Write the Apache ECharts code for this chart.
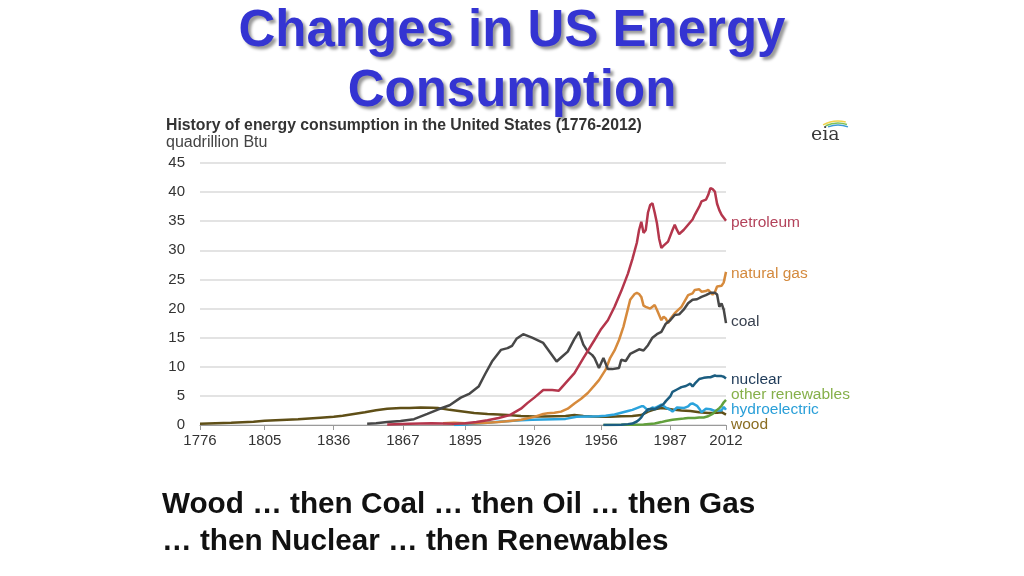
<!DOCTYPE html>
<html>
<head>
<meta charset="utf-8">
<script src="https://cdn.jsdelivr.net/npm/echarts@6/dist/echarts.min.js"></script>
<style>
html,body{margin:0;padding:0;background:#fff;}
#chart{width:1024px;height:576px;}
</style>
</head>
<body>
<div id="chart"></div>
<script>
// ---- data (quadrillion Btu), [year, value] ----
const xTickYears = [1776, 1805, 1836, 1867, 1895, 1926, 1956, 1987, 2012];

const wood = [[1776,0.2],[1790,0.4],[1800,0.55],[1805,0.72],[1810,0.82],[1820,1.0],[1830,1.25],[1836,1.4],[1840,1.6],[1845,1.9],[1850,2.2],[1855,2.55],[1860,2.8],[1866,2.9],[1870,2.9],[1875,3.0],[1880,2.98],[1883,2.9],[1888,2.6],[1893,2.35],[1899,2.05],[1905,1.9],[1910,1.8],[1914,1.7],[1920,1.55],[1926,1.45],[1930,1.45],[1935,1.5],[1940,1.55],[1944,1.7],[1948,1.55],[1952,1.45],[1956,1.4],[1960,1.4],[1965,1.5],[1970,1.55],[1974,1.7],[1977,2.3],[1980,2.7],[1983,2.9],[1986,2.8],[1989,2.6],[1992,2.5],[1996,2.4],[2000,2.2],[2004,2.05],[2008,2.1],[2010,2.2],[2012,1.8]];

const coal = [[1851,0.2],[1855,0.3],[1860,0.5],[1866,0.7],[1872,1.0],[1878,1.9],[1883,2.7],[1888,3.4],[1893,4.7],[1897,5.4],[1901,6.6],[1904,8.8],[1907,10.9],[1911,12.9],[1914,13.2],[1916,13.6],[1918,14.8],[1921,15.6],[1925,15.0],[1930,14.1],[1933,12.5],[1936,10.9],[1938,11.6],[1941,12.6],[1944,14.8],[1946,16.0],[1948,13.8],[1950,12.6],[1952,12.0],[1953,11.5],[1955,9.8],[1957,11.5],[1959,9.6],[1961,9.6],[1964,9.8],[1965,11.2],[1967,11.0],[1969,12.2],[1971,12.6],[1973,13.0],[1975,12.8],[1977,13.7],[1979,15.0],[1981,15.6],[1983,16.0],[1985,17.4],[1987,18.0],[1989,18.9],[1991,19.0],[1993,19.8],[1995,20.9],[1997,21.5],[1999,21.6],[2001,22.0],[2003,22.3],[2005,22.7],[2007,22.7],[2008,22.4],[2009,20.3],[2010,20.9],[2011,19.8],[2012,17.5]];

const petroleum = [[1860,0.1],[1870,0.2],[1880,0.3],[1885,0.25],[1890,0.2],[1895,0.3],[1900,0.5],[1905,0.8],[1910,1.2],[1915,1.7],[1920,2.8],[1923,3.8],[1926,4.7],[1930,6.0],[1934,6.0],[1937,5.9],[1940,7.2],[1944,8.9],[1948,11.5],[1953,14.6],[1956,16.5],[1959,18.0],[1962,20.3],[1965,23.0],[1968,26.0],[1970,28.5],[1972,31.3],[1973,33.5],[1974,34.9],[1975,33.0],[1976,33.5],[1977,36.5],[1978,37.8],[1979,38.1],[1980,36.5],[1981,34.7],[1982,32.0],[1983,30.4],[1984,30.8],[1986,31.5],[1988,33.5],[1989,34.4],[1990,33.5],[1991,32.8],[1993,33.5],[1995,34.4],[1997,35.3],[1998,36.1],[2000,37.5],[2001,38.4],[2003,38.7],[2004,39.5],[2005,40.7],[2006,40.5],[2007,40.1],[2008,38.0],[2009,36.9],[2010,36.1],[2011,35.6],[2012,35.1]];

const naturalGas = [[1885,0.3],[1890,0.4],[1895,0.3],[1900,0.3],[1905,0.4],[1910,0.5],[1915,0.7],[1920,0.9],[1926,1.4],[1930,1.9],[1932,2.0],[1935,2.1],[1938,2.3],[1941,2.8],[1944,3.7],[1947,4.5],[1950,5.5],[1953,6.8],[1955,7.7],[1958,9.5],[1960,11.5],[1962,12.8],[1964,14.6],[1966,16.9],[1969,21.5],[1971,22.5],[1972,22.7],[1973,22.5],[1974,22.0],[1975,20.5],[1976,20.3],[1978,20.0],[1979,20.3],[1980,20.6],[1981,19.8],[1983,18.0],[1984,18.6],[1985,18.3],[1986,17.5],[1987,18.2],[1989,19.2],[1992,20.3],[1995,22.3],[1997,22.6],[1998,23.2],[2000,23.3],[2001,22.9],[2003,23.0],[2004,23.2],[2006,22.4],[2007,22.8],[2008,23.8],[2010,23.9],[2011,24.5],[2012,26.3]];

const hydroelectric = [[1890,0],[1895,0.1],[1900,0.25],[1905,0.4],[1910,0.55],[1915,0.7],[1920,0.8],[1925,0.9],[1930,0.95],[1935,1.0],[1940,1.05],[1945,1.4],[1950,1.45],[1955,1.5],[1958,1.6],[1962,1.8],[1965,2.1],[1968,2.4],[1970,2.6],[1972,2.9],[1974,3.2],[1975,3.2],[1977,2.5],[1979,3.0],[1980,2.9],[1982,3.3],[1983,3.5],[1985,3.0],[1987,2.6],[1988,2.3],[1990,3.0],[1993,2.9],[1995,3.2],[1996,3.6],[1997,3.7],[1999,3.3],[2000,2.8],[2001,2.2],[2003,2.8],[2005,2.7],[2007,2.4],[2008,2.5],[2010,2.5],[2011,3.1],[2012,2.6]];

const nuclear = [[1957,0],[1960,0.01],[1965,0.05],[1968,0.15],[1970,0.25],[1972,0.6],[1973,0.9],[1974,1.3],[1975,1.9],[1977,2.7],[1979,2.8],[1980,2.7],[1982,3.1],[1984,3.6],[1985,4.1],[1987,4.9],[1988,5.7],[1990,6.1],[1992,6.5],[1994,6.7],[1996,7.1],[1997,6.6],[1998,7.1],[2000,7.9],[2002,8.1],[2004,8.2],[2005,8.2],[2007,8.5],[2008,8.4],[2010,8.4],[2011,8.3],[2012,8.0]];

const otherRenewables = [[1957,0],[1960,0.02],[1965,0.03],[1970,0.06],[1975,0.1],[1980,0.25],[1983,0.5],[1985,0.7],[1988,0.9],[1990,1.0],[1993,1.1],[1995,1.2],[1998,1.2],[2000,1.3],[2002,1.3],[2004,1.5],[2006,1.9],[2008,2.6],[2009,2.9],[2010,3.3],[2011,3.9],[2012,4.3]];

const seriesNames = ['wood','hydroelectric','other renewables','nuclear','natural gas','coal','petroleum'];
const seriesData = [wood, hydroelectric, otherRenewables, nuclear, naturalGas, coal, petroleum];
const lineColors = ['#5f4f17','#2ba3dc','#62a03c','#1b5d80','#d68a3c','#474747','#b4364c'];
const labelColors = ['#8a6d22','#2a9fd8','#86b04a','#1e3a58','#d48a3e','#3a4250','#b3425a'];
const labelOffsets = [[0,10],[0,0],[0,-5],[0,1],[0,2],[0,-1],[0,2]];

const FONT = 'Liberation Sans, Arial, sans-serif';

const chart = echarts.init(document.getElementById('chart'), null, {renderer:'canvas'});

const series = seriesNames.map((name, i) => ({
  name: name,
  type: 'line',
  data: seriesData[i],
  showSymbol: false,
  smooth: false,
  lineStyle: {color: lineColors[i], width: 2.5},
  itemStyle: {color: lineColors[i]},
  z: 2 + i,
  endLabel: {
    show: true,
    formatter: name,
    color: labelColors[i],
    fontSize: 15.5,
    fontFamily: FONT,
    distance: 5,
    offset: labelOffsets[i]
  },
  emphasis: {disabled: true},
  animation: false
}));

const option = {
  animation: false,
  backgroundColor: '#ffffff',
  title: {
    text: 'Changes in US Energy\nConsumption',
    left: 'center',
    top: -3,
    textStyle: {
      fontFamily: FONT,
      fontSize: 51,
      fontWeight: 'bold',
      color: '#3434d2',
      lineHeight: 60,
      textShadowColor: 'rgba(0,0,0,0.4)',
      textShadowOffsetX: 3,
      textShadowOffsetY: 3,
      textShadowBlur: 3
    }
  },
  grid: {left: 200, right: 298, top: 163, bottom: 151, containLabel: false},
  xAxis: {
    type: 'value',
    min: 1776,
    max: 2012,
    splitLine: {show: false},
    axisLine: {show: true, lineStyle: {color: '#9a9a9a', width: 1}},
    axisTick: {show: true, customValues: xTickYears, length: 5, lineStyle: {color: '#9a9a9a'}},
    axisLabel: {customValues: xTickYears, formatter: v => String(v), fontSize: 15, color: '#333', fontFamily: FONT, margin: 8}
  },
  yAxis: {
    type: 'value',
    min: 0,
    max: 45,
    interval: 5,
    axisLine: {show: false},
    axisTick: {show: false},
    splitLine: {lineStyle: {color: '#dadada', width: 1.5}},
    axisLabel: {fontSize: 15, color: '#333', fontFamily: FONT, margin: 15}
  },
  graphic: [
    {type: 'text', left: 166, top: 118, style: {text: 'History of energy consumption in the United States (1776-2012)', font: 'bold 15.8px ' + FONT, fill: '#333'}},
    {type: 'text', left: 166, top: 135, style: {text: 'quadrillion Btu', font: '16px ' + FONT, fill: '#444'}},
    {type: 'text', left: 162, top: 490, style: {text: 'Wood … then Coal … then Oil … then Gas', font: 'bold 29.7px ' + FONT, fill: '#111'}},
    {type: 'text', left: 162, top: 527, style: {text: '… then Nuclear … then Renewables', font: 'bold 29.7px ' + FONT, fill: '#111'}},
    {type: 'text', left: 811, top: 126, style: {text: 'eia', font: '19px DejaVu Serif, serif', fill: '#3a3a3a'}},
    {type: 'arc', shape: {cx: 838, cy: 152, r: 31, startAngle: -Math.PI*0.66, endAngle: -Math.PI*0.42}, style: {stroke: '#f0d24c', lineWidth: 1.5, fill: null}},
    {type: 'arc', shape: {cx: 838, cy: 152, r: 29, startAngle: -Math.PI*0.64, endAngle: -Math.PI*0.40}, style: {stroke: '#7cc15a', lineWidth: 1.5, fill: null}},
    {type: 'arc', shape: {cx: 838, cy: 152, r: 27, startAngle: -Math.PI*0.62, endAngle: -Math.PI*0.38}, style: {stroke: '#3c9ad6', lineWidth: 1.5, fill: null}}
  ],
  series: series
};
chart.setOption(option);
</script>
</body>
</html>
